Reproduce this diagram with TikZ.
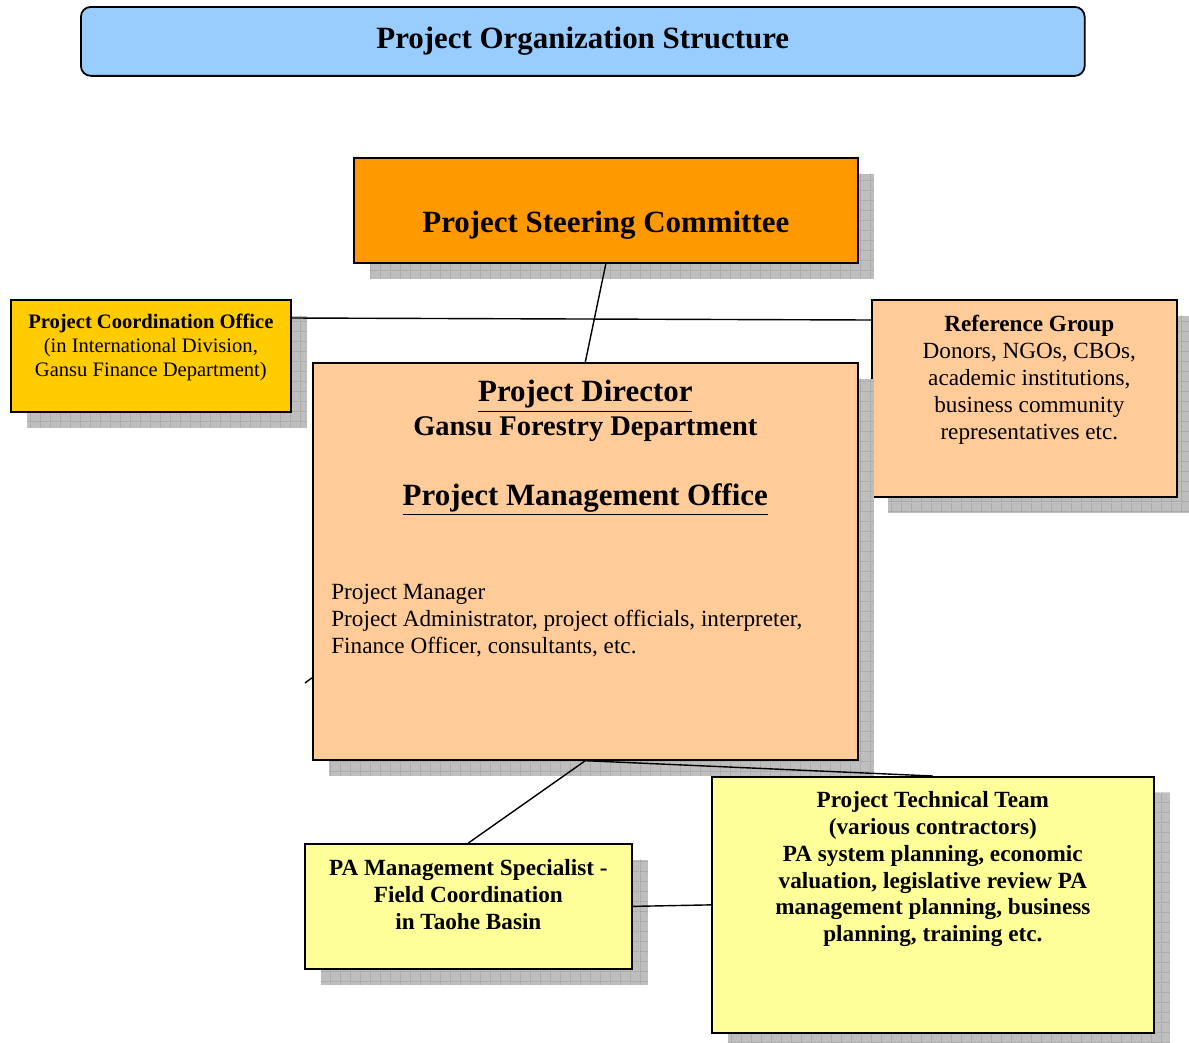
\documentclass[tikz,border=0pt]{standalone}
\usepackage{fontspec}
\setmainfont{Liberation Serif}
\usetikzlibrary{positioning, shadows, patterns}

\definecolor{titleblue}{HTML}{99CCFF}
\definecolor{steerorange}{HTML}{FF9900}
\definecolor{officegold}{HTML}{FFCC00}
\definecolor{peach}{HTML}{FFCC99}
\definecolor{paleyellow}{HTML}{FFFF99}
\definecolor{shadowgray}{RGB}{190,190,190}
\definecolor{gridgray}{RGB}{140,140,140}

% coarse grid for the shadows
\pgfdeclarepatternformonly{shadowgrid}{\pgfpointorigin}{\pgfpoint{5.7pt}{5.7pt}}{\pgfpoint{5.7pt}{5.7pt}}{%
  \pgfsetlinewidth{0.35pt}
  \pgfpathmoveto{\pgfpointorigin}\pgfpathlineto{\pgfpoint{5.7pt}{0pt}}
  \pgfpathmoveto{\pgfpointorigin}\pgfpathlineto{\pgfpoint{0pt}{5.7pt}}
  \pgfusepath{stroke}}

\begin{document}
\begin{tikzpicture}[x=0.02cm, y=-0.02cm,
    % Box styles: plain rectangles with a grey drop shadow
    orgbox/.style={
      rectangle, draw=black, line width=1pt, anchor=north west,
      drop shadow={shadow xshift=0.32cm, shadow yshift=-0.32cm,
                   fill=shadowgray, opacity=1,
                   postaction={pattern=shadowgrid, pattern color=gridgray}}
    },
    boxtext/.style={
      inner sep=0pt, align=center,
      font=\fontsize{13.2}{15.3}\selectfont\bfseries
    },
    link/.style={line width=0.8pt}
]
\useasboundingbox (0,0) rectangle (1189,1042);

% Title banner
\node [draw=black, line width=1pt, rounded corners=0.2cm, fill=titleblue,
       minimum width=20.08cm, minimum height=1.38cm, anchor=north west,
       font=\fontsize{17.6}{21}\selectfont\bfseries] (title) at (80,6)
      {Project Organization Structure};

% Steering committee
\node [orgbox, fill=steerorange, minimum width=10.08cm, minimum height=2.1cm] (steer) at (353,157) {};
\node [boxtext, font=\fontsize{17.6}{21}\selectfont\bfseries, yshift=-0.3cm] (steertext) at (steer.center)
      {Project Steering Committee};

% Coordination office (left)
\node [orgbox, fill=officegold, minimum width=5.6cm, minimum height=2.24cm] (coord) at (10,299) {};
\node [boxtext, font=\fontsize{11.7}{13.6}\selectfont, below=0.3cm of coord.north] (coordtext)
      {\textbf{Project Coordination Office}\\
       (in International Division,\\
       Gansu Finance Department)};

% Reference group (right)
\node [orgbox, fill=peach, minimum width=6.1cm, minimum height=3.94cm] (ref) at (871,299) {};
\node [boxtext, font=\fontsize{13.2}{15.3}\selectfont, below=0.32cm of ref.north, xshift=0.1cm] (reftext)
      {\textbf{Reference Group}\\
       Donors, NGOs, CBOs,\\
       academic institutions,\\
       business community\\
       representatives etc.};

% Project director / management office
\node [orgbox, fill=peach, minimum width=10.9cm, minimum height=7.94cm] (dir) at (312,362) {};
\node [boxtext, font=\fontsize{17.6}{19.3}\selectfont\bfseries, below=0.36cm of dir.north] (dirhead)
      {\underline{Project Director}\\
       {\fontsize{16.2}{19.3}\selectfont Gansu Forestry Department}\\[20.4pt]
       \underline{Project Management Office}};
\node [inner sep=0pt, align=left, font=\fontsize{13.2}{15.3}\selectfont,
       below right=4.44cm and 0.38cm of dir.north west] (dirstaff)
      {Project Manager\\
       Project Administrator, project officials, interpreter,\\
       Finance Officer, consultants, etc.};

% Field coordination
\node [orgbox, fill=paleyellow, minimum width=6.54cm, minimum height=2.5cm] (pa) at (304,843) {};
\node [boxtext, below=0.32cm of pa.north] (patext)
      {PA Management Specialist -\\
       Field Coordination\\
       in Taohe Basin};

% Technical team
\node [orgbox, fill=paleyellow, minimum width=8.84cm, minimum height=5.12cm] (tech) at (711,776) {};
\node [boxtext, below=0.3cm of tech.north] (techtext)
      {Project Technical Team\\
       (various contractors)\\
       PA system planning, economic\\
       valuation, legislative review PA\\
       management planning, business\\
       planning, training etc.};

% Connectors
\coordinate (stubend) at (305,683);
\draw [link] (steer.south) -- (dir.north);
\draw [link] ([yshift=-0.38cm]coord.north east) -- ([yshift=-0.42cm]ref.north west);
\draw [link] (dir.south) -- (pa.north);
\draw [link] (dir.south) -- (tech.north);
\draw [link] (pa.east) -- (tech.west);
\draw [link] ([yshift=-2.33cm]dir.west) -- (stubend);

\end{tikzpicture}
\end{document}
